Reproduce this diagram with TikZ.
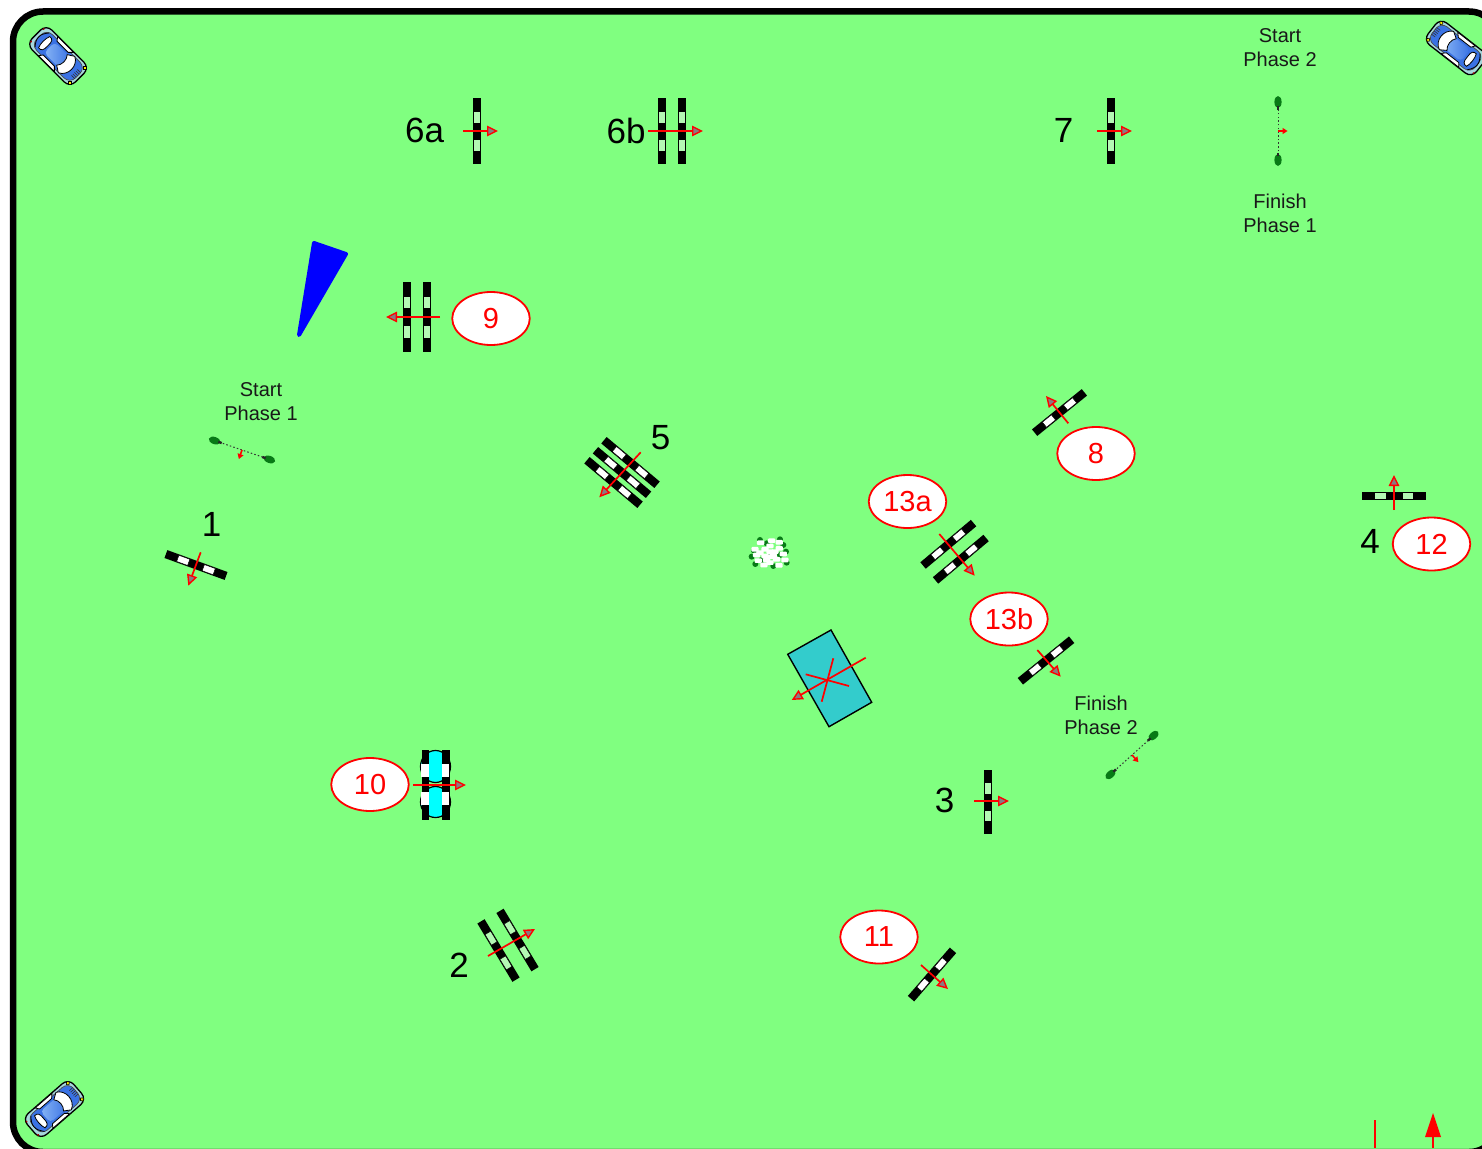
\documentclass[tikz,border=0pt]{standalone}
\usepackage{fontspec}
\setmainfont{Liberation Sans}
\usetikzlibrary{arrows.meta,shapes.geometric}
\definecolor{turf}{HTML}{80FF80}
\definecolor{gapgreen}{HTML}{B4F8B4}
\definecolor{waterc}{HTML}{33CCCC}
\definecolor{tipgrey}{HTML}{8A7A80}
\definecolor{flagg}{HTML}{087A16}
\definecolor{carbody}{HTML}{A6D8DC}
\definecolor{carblue}{HTML}{3A72E4}
\definecolor{carlight}{HTML}{86B4F4}
\definecolor{barrel}{HTML}{00FFFF}
\definecolor{lampc}{HTML}{FFEE00}
\tikzset{
  bignum/.style={font=\fontsize{35}{35}\selectfont,text=black,inner sep=0pt},
  redtag/.style={shape=ellipse,draw=red,fill=white,line width=1.8pt,minimum width=77.5pt,minimum height=53pt,inner sep=0pt,text=red,font=\fontsize{29}{29}\selectfont},
  smalltxt/.style={font=\fontsize{20}{24}\selectfont,align=center,text=black!90,inner sep=0pt},
  jumparrow/.style={draw=red,line width=1.7pt,-{Triangle[length=11pt,width=10.5pt,fill=tipgrey,line width=1.4pt]}},
  redline/.style={draw=red,line width=1.7pt}
}
\newcommand\fence[5][1]{%
  \begin{scope}[shift={(#2,#3)},rotate=#4,xscale=#1]
    \fill[black] (-33,-4.2) rectangle (33,4.2);
    \filldraw[fill=#5,draw=black,line width=.5pt] (-20,-3.3) rectangle (-8,3.3);
    \filldraw[fill=#5,draw=black,line width=.5pt] (8,-3.3) rectangle (20,3.3);
  \end{scope}}
\newcommand\flagline[3]{%
  \begin{scope}[shift={(#1,#2)},rotate=#3]
    \draw[black!80,line width=1pt,dash pattern=on 1.5pt off 2.2pt] (-24,0) -- (24,0);
    \fill[flagg] (-29,0) ellipse (6 and 3.6);
    \fill[flagg] (29,0) ellipse (6 and 3.6);
    \fill[black!85] (-25,-1.2) rectangle (-21.5,1.2);
    \fill[black!85] (21.5,-1.2) rectangle (25,1.2);
    \draw[red,line width=1.6pt] (0,0) -- (0,5);
    \fill[red] (-3.2,4.5) -- (3.2,4.5) -- (0,9.5) -- cycle;
  \end{scope}}
\newcommand\car[3]{%
  \begin{scope}[shift={(#1,#2)},rotate=#3,scale=.93]
    \filldraw[fill=carbody,draw=black,line width=1.3pt,rounded corners=8pt] (-33,-15) rectangle (33,15);
    \filldraw[fill=carblue,draw=black!70,line width=.7pt,rounded corners=8pt] (-29,-12) rectangle (30,12);
    \shade[left color=carlight,right color=carblue,rounded corners=4pt] (-13,-8) rectangle (12,8);
    \draw[black,line width=.8pt] (-24,-11) .. controls (-31,-3) and (-31,3) .. (-24,11);
    \filldraw[fill=white,draw=black,line width=.8pt] (-21,-8.5) .. controls (-17,-9) and (-15,-7) .. (-15.5,0) .. controls (-15,7) and (-17,9) .. (-21,8.5) .. controls (-23,4) and (-23,-4) .. (-21,-8.5) -- cycle;
    \filldraw[fill=white,draw=black,line width=.8pt] (6,-8) -- (13,-12.5) .. controls (23,-8) and (23,8) .. (13,12.5) -- (6,8) .. controls (10,4) and (10,-4) .. (6,-8) -- cycle;
    \filldraw[fill=white,draw=black,line width=.8pt] (-15,-14.5) -- (9,-14.5) -- (5,-10.5) -- (-12,-10.5) -- cycle;
    \filldraw[fill=white,draw=black,line width=.8pt] (-15,14.5) -- (9,14.5) -- (5,10.5) -- (-12,10.5) -- cycle;
    \foreach \g in {-4.5,-2.25,0,2.25,4.5} \draw[black!80,line width=.6pt] (25,\g) -- (30,\g);
    \filldraw[fill=lampc,draw=black,line width=.6pt] (29,-11.5) circle (2.1);
    \filldraw[fill=lampc,draw=black,line width=.6pt] (29,11.5) circle (2.1);
    \fill[red!70!black] (-31.5,-9.5) circle (1.1);
    \fill[red!70!black] (-31.5,9.5) circle (1.1);
  \end{scope}}
\begin{document}
\begin{tikzpicture}[x=1pt,y=-1pt,line join=miter]
\useasboundingbox (0,0) rectangle (1482,1148);
\clip (0,0) rectangle (1482,1148);
\fill[white] (0,0) rectangle (1482,1148);
\filldraw[fill=turf,draw=black,line width=6.5pt,rounded corners=30pt] (13,11.5) rectangle (1499,1152);

% cars
\car{58}{56}{-45}
\car{1456}{48}{142}
\car{54.5}{1109}{41}

% fences
\fence{477}{131}{90}{gapgreen}
\fence{662}{131}{90}{gapgreen}
\fence{682}{131}{90}{gapgreen}
\fence{1111}{131}{90}{gapgreen}
\fence[1.06]{407}{317}{90}{gapgreen}
\fence[1.06]{427}{317}{90}{gapgreen}
\fence[.97]{988}{802}{90}{gapgreen}
\fence[.97]{1394}{496}{0}{gapgreen}
\fence[.97]{196}{565}{-20}{white}
\fence[1.05]{630.5}{462.5}{-40}{white}
\fence[1.05]{622}{472.5}{-40}{white}
\fence[1.05]{613.5}{482.5}{-40}{white}
\fence[.97]{1059.5}{412.5}{39}{white}
\fence{948.3}{544.3}{40}{white}
\fence{960.8}{559.2}{40}{white}
\fence{1046}{660.5}{39}{white}
\fence[.97]{932}{974.5}{49}{white}
\fence[1.03]{498.5}{950.5}{-59}{gapgreen}
\fence[1.03]{517.5}{940}{-59}{gapgreen}

% fence 10 (oxer with barrels)
\filldraw[fill=barrel,draw=black,line width=1.2pt] (435.5,766.5) ellipse (15 and 16);
\filldraw[fill=barrel,draw=black,line width=1.2pt] (435.5,802) ellipse (15 and 15.5);
\fill[black] (421.5,750) rectangle (429,820);
\fill[black] (442,750) rectangle (449.5,820);
\fill[white] (421,764) rectangle (429,777);
\fill[white] (442,764) rectangle (449,777);
\fill[white] (421,792) rectangle (429,805);
\fill[white] (442,792) rectangle (449,805);

% water
\filldraw[fill=waterc,draw=black,line width=1.4pt] (831,630) -- (787.7,654.3) -- (829,726.7) -- (871.7,702.3) -- cycle;
\draw[redline] (833.3,658.3) -- (821.7,701.7);
\draw[redline] (805.7,674.3) -- (849,686);
\draw[jumparrow] (865.7,657.7) -- (791.7,700);

% flag lines
\flagline{1278}{131}{90}
\flagline{242}{450}{-19}
\flagline{1132}{755}{42}

% arrows
\draw[jumparrow] (463,131) -- (498,131);
\draw[jumparrow] (648,131) -- (703,131);
\draw[jumparrow] (1097,131) -- (1132,131);
\draw[jumparrow] (440,317) -- (386,317);
\draw[jumparrow] (974,801) -- (1009,801);
\draw[jumparrow] (1394,510) -- (1394,475);
\draw[jumparrow] (200.7,552.3) -- (188.3,585.7);
\draw[jumparrow] (640.7,452.3) -- (599.3,497.3);
\draw[jumparrow] (1068.3,423.3) -- (1046,396);
\draw[jumparrow] (939.3,534) -- (974.7,575.7);
\draw[jumparrow] (1037.3,650) -- (1060.7,676.7);
\draw[jumparrow] (921,965) -- (948,989);
\draw[jumparrow] (488,956) -- (535,929);
\draw[jumparrow] (413,785) -- (466,785);

% blue wedge
\filldraw[fill=blue,draw=blue,line width=4pt,line join=round] (314,243) -- (346,254) -- (299,335) -- cycle;

% bush
\begin{scope}[shift={(570,420)},x=.3333pt,y=-.3333pt]
  \foreach \p/\q in {545/410,556/432,570/360,630/358,648/395,650/428,610/438,552/392,600/400,575/420,590/370,630/405,640/375}
    \fill[flagg] (\p,\q) circle (3pt);
  \foreach \p/\q in {572/368,605/362,628/367,600/378,555/388,585/388,628/385,600/395,640/402,560/405,585/408,610/408,565/422,590/420,620/418,645/420,600/428,582/435,627/436,570/398,615/395,600/410}
    \fill[white,rounded corners=1pt] (\p-11,\q-7) rectangle (\p+11,\q+7);
\end{scope}

% bottom-right arrows
\draw[red,line width=1.5pt] (1375,1120) -- (1375,1148);
\draw[red,line width=1.5pt] (1433,1136) -- (1433,1148);
\fill[red] (1433,1113) -- (1441,1137) -- (1425,1137) -- cycle;

% labels
\node[bignum] (l6a) at (424.5,130.5) {6a};
\node[bignum] (l6b) at (626,130.5) {6b};
\node[bignum] (l7) at (1063.5,130.5) {7};
\node[bignum] (l5) at (660.5,437.5) {5};
\node[bignum] (l1) at (211.5,524) {1};
\node[bignum] (l4) at (1370,541.5) {4};
\node[bignum] (l3) at (944.5,800) {3};
\node[bignum] (l2) at (459,965) {2};
\node[redtag] (t9) at (491,318.5) {9};
\node[redtag] (t8) at (1096,453.5) {8};
\node[redtag] (t13a) at (907.5,501.5) {13a};
\node[redtag] (t13b) at (1009,619) {13b};
\node[redtag] (t12) at (1431.5,544) {12};
\node[redtag] (t10) at (370,784.5) {10};
\node[redtag] (t11) at (879,937) {11};
\node[smalltxt] (sp2) at (1280,48) {Start\\Phase 2};
\node[smalltxt] (fp1) at (1280,213.5) {Finish\\Phase 1};
\node[smalltxt] (sp1) at (261,402) {Start\\Phase 1};
\node[smalltxt] (fp2) at (1101,715) {Finish\\Phase 2};
\end{tikzpicture}
\end{document}
